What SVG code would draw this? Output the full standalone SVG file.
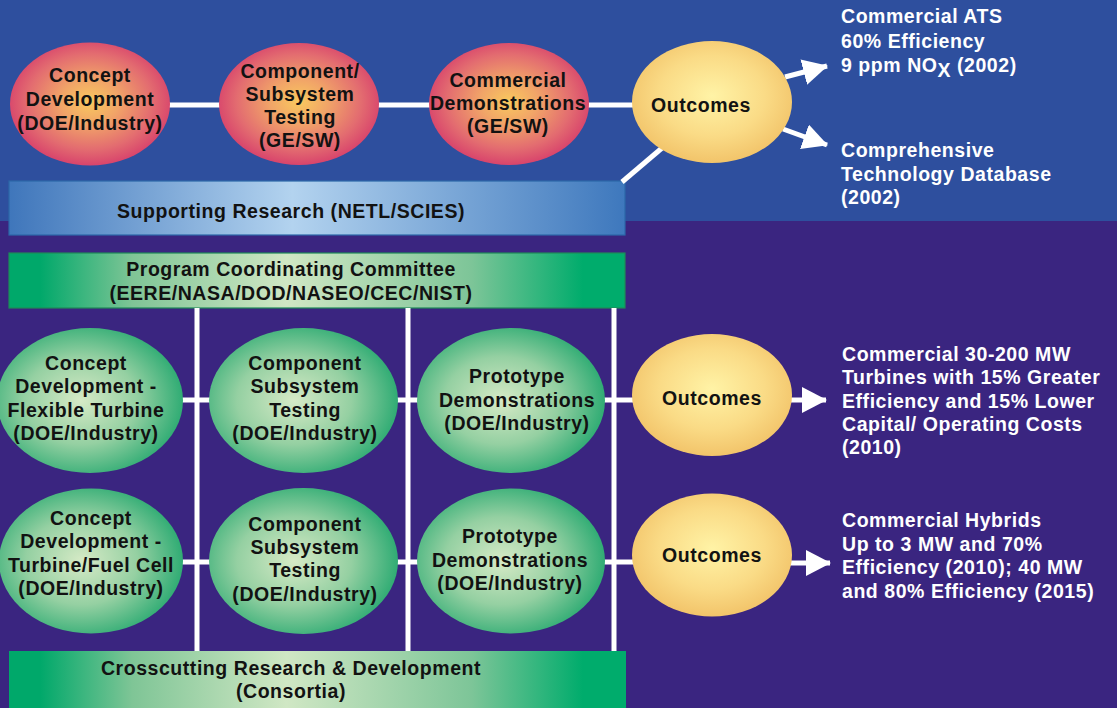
<svg xmlns="http://www.w3.org/2000/svg" width="1117" height="708" viewBox="0 0 1117 708">
<defs>
<style>
.t{font-family:"Liberation Sans",Arial,sans-serif;font-weight:bold;font-size:19.5px;letter-spacing:0.55px;fill:#121212;text-anchor:middle}
.w{font-family:"Liberation Sans",Arial,sans-serif;font-weight:bold;font-size:19.5px;letter-spacing:0.55px;fill:#FFFFFF}
.ln{stroke:#FFFFFF;stroke-width:5;fill:none}
.pink{fill:url(#gPink)}
.green{fill:url(#gGreen)}
.yel{fill:url(#gYel)}
</style>
<radialGradient id="gPink" cx="0.5" cy="0.48" r="0.52">
<stop offset="0" stop-color="#F9C95E"/>
<stop offset="0.35" stop-color="#F1A468"/>
<stop offset="0.75" stop-color="#E36C70"/>
<stop offset="1" stop-color="#D8446C"/>
</radialGradient>
<radialGradient id="gGreen" cx="0.45" cy="0.5" r="0.55">
<stop offset="0" stop-color="#D6EAC6"/>
<stop offset="0.55" stop-color="#95D0A2"/>
<stop offset="1" stop-color="#30AC74"/>
</radialGradient>
<radialGradient id="gYel" cx="0.5" cy="0.45" r="0.55">
<stop offset="0" stop-color="#FFF3A6"/>
<stop offset="0.6" stop-color="#FADB86"/>
<stop offset="1" stop-color="#F2C46A"/>
</radialGradient>
<linearGradient id="gBlue" gradientUnits="userSpaceOnUse" x1="9" y1="0" x2="625" y2="0">
<stop offset="0" stop-color="#3F76BB"/>
<stop offset="0.46" stop-color="#B3D3EF"/>
<stop offset="1" stop-color="#3E78BD"/>
</linearGradient>
<linearGradient id="gGreenBar" gradientUnits="userSpaceOnUse" x1="9" y1="0" x2="626" y2="0">
<stop offset="0" stop-color="#00A86A"/>
<stop offset="0.05" stop-color="#00A86A"/>
<stop offset="0.2" stop-color="#7FC596"/>
<stop offset="0.45" stop-color="#D0E7C4"/>
<stop offset="0.75" stop-color="#7DC598"/>
<stop offset="0.93" stop-color="#00AC6C"/>
<stop offset="1" stop-color="#00AC6C"/>
</linearGradient>
<marker id="ah" markerUnits="userSpaceOnUse" markerWidth="27" markerHeight="27" refX="24" refY="13" orient="auto">
<path d="M0,0 L25,13 L0,26 Z" fill="#FFFFFF"/>
</marker>
</defs>

<rect x="0" y="0" width="1117" height="221" fill="#2E4F9E"/>
<rect x="0" y="221" width="1117" height="487" fill="#3A2580"/>

<g id="supporting-research">
<rect x="9" y="181" width="616" height="54" fill="url(#gBlue)" stroke="#2C68A8" stroke-width="1.2"/>
<text class="t" x="291" y="218">Supporting Research (NETL/SCIES)</text>
</g>
<g id="program-coordinating">
<rect x="9" y="253" width="616" height="55" fill="url(#gGreenBar)" stroke="#1E8A58" stroke-width="1.2"/>
<text class="t" x="291" y="276">Program Coordinating Committee</text>
<text class="t" x="291" y="300">(EERE/NASA/DOD/NASEO/CEC/NIST)</text>
</g>
<g id="crosscutting">
<rect x="9" y="651" width="617" height="60" fill="url(#gGreenBar)"/>
<text class="t" x="291" y="675">Crosscutting Research &amp; Development</text>
<text class="t" x="291" y="698">(Consortia)</text>
</g>

<g id="connectors">
<line class="ln" x1="160" y1="105" x2="640" y2="105"/>
<line class="ln" x1="662" y1="148" x2="622" y2="182"/>
<line class="ln" x1="785" y1="77" x2="827" y2="66" marker-end="url(#ah)"/>
<line class="ln" x1="783" y1="129" x2="827" y2="145" marker-end="url(#ah)"/>
<line class="ln" x1="197" y1="308" x2="197" y2="651"/>
<line class="ln" x1="408" y1="308" x2="408" y2="651"/>
<line class="ln" x1="614" y1="308" x2="614" y2="651"/>
<line class="ln" x1="170" y1="400" x2="640" y2="400"/>
<line class="ln" x1="170" y1="562" x2="640" y2="562"/>
<line class="ln" x1="785" y1="400" x2="826" y2="400" marker-end="url(#ah)"/>
<line class="ln" x1="785" y1="563" x2="830" y2="563" marker-end="url(#ah)"/>
</g>

<g id="top-concept">
<ellipse class="pink" cx="90" cy="104" rx="80" ry="61.5"/>
<text class="t" x="90" y="82">Concept</text>
<text class="t" x="90" y="106">Development</text>
<text class="t" x="90" y="130">(DOE/Industry)</text>
</g>
<g id="top-component">
<ellipse class="pink" cx="299" cy="104" rx="80" ry="61"/>
<text class="t" x="300" y="78">Component/</text>
<text class="t" x="300" y="101">Subsystem</text>
<text class="t" x="300" y="124">Testing</text>
<text class="t" x="300" y="147">(GE/SW)</text>
</g>
<g id="top-commercial">
<ellipse class="pink" cx="509" cy="104" rx="80" ry="61"/>
<text class="t" x="508" y="87">Commercial</text>
<text class="t" x="508" y="110">Demonstrations</text>
<text class="t" x="508" y="133">(GE/SW)</text>
</g>
<g id="top-outcomes">
<ellipse class="yel" cx="712" cy="102" rx="80" ry="61"/>
<text class="t" x="701" y="112">Outcomes</text>
</g>
<g id="top-result-ats">
<text class="w" x="841" y="23">Commercial ATS</text>
<text class="w" x="841" y="48">60% Efficiency</text>
<text class="w" x="841" y="72">9 ppm NO<tspan dy="5">X</tspan><tspan dy="-5"> (2002)</tspan></text>
</g>
<g id="top-result-database">
<text class="w" x="841" y="157">Comprehensive</text>
<text class="w" x="841" y="181">Technology Database</text>
<text class="w" x="841" y="204">(2002)</text>
</g>

<g id="mid-concept">
<ellipse class="green" cx="90" cy="400.5" rx="93" ry="72.5"/>
<text class="t" x="86" y="370">Concept</text>
<text class="t" x="86" y="393">Development -</text>
<text class="t" x="86" y="417">Flexible Turbine</text>
<text class="t" x="86" y="440">(DOE/Industry)</text>
</g>
<g id="mid-component">
<ellipse class="green" cx="303.5" cy="400.5" rx="94.5" ry="72.5"/>
<text class="t" x="305" y="370">Component</text>
<text class="t" x="305" y="393">Subsystem</text>
<text class="t" x="305" y="417">Testing</text>
<text class="t" x="305" y="440">(DOE/Industry)</text>
</g>
<g id="mid-prototype">
<ellipse class="green" cx="511" cy="400.5" rx="94" ry="72.5"/>
<text class="t" x="517" y="383">Prototype</text>
<text class="t" x="517" y="407">Demonstrations</text>
<text class="t" x="517" y="430">(DOE/Industry)</text>
</g>
<g id="mid-outcomes">
<ellipse class="yel" cx="712" cy="395" rx="80" ry="61"/>
<text class="t" x="712" y="405">Outcomes</text>
</g>
<g id="mid-result">
<text class="w" x="842" y="361">Commercial 30-200 MW</text>
<text class="w" x="842" y="384">Turbines with 15% Greater</text>
<text class="w" x="842" y="408">Efficiency and 15% Lower</text>
<text class="w" x="842" y="431">Capital/ Operating Costs</text>
<text class="w" x="842" y="454">(2010)</text>
</g>

<g id="bot-concept">
<ellipse class="green" cx="91" cy="561" rx="92" ry="72.5"/>
<text class="t" x="91" y="525">Concept</text>
<text class="t" x="91" y="548">Development -</text>
<text class="t" x="91" y="572">Turbine/Fuel Cell</text>
<text class="t" x="91" y="595">(DOE/Industry)</text>
</g>
<g id="bot-component">
<ellipse class="green" cx="303.5" cy="561" rx="94.5" ry="73"/>
<text class="t" x="305" y="531">Component</text>
<text class="t" x="305" y="554">Subsystem</text>
<text class="t" x="305" y="577">Testing</text>
<text class="t" x="305" y="601">(DOE/Industry)</text>
</g>
<g id="bot-prototype">
<ellipse class="green" cx="511" cy="561" rx="94" ry="72.5"/>
<text class="t" x="510" y="543">Prototype</text>
<text class="t" x="510" y="567">Demonstrations</text>
<text class="t" x="510" y="590">(DOE/Industry)</text>
</g>
<g id="bot-outcomes">
<ellipse class="yel" cx="712" cy="555" rx="80" ry="61.5"/>
<text class="t" x="712" y="562">Outcomes</text>
</g>
<g id="bot-result">
<text class="w" x="842" y="527">Commercial Hybrids</text>
<text class="w" x="842" y="551">Up to 3 MW and 70%</text>
<text class="w" x="842" y="574">Efficiency (2010); 40 MW</text>
<text class="w" x="842" y="598">and 80% Efficiency (2015)</text>
</g>
</svg>
